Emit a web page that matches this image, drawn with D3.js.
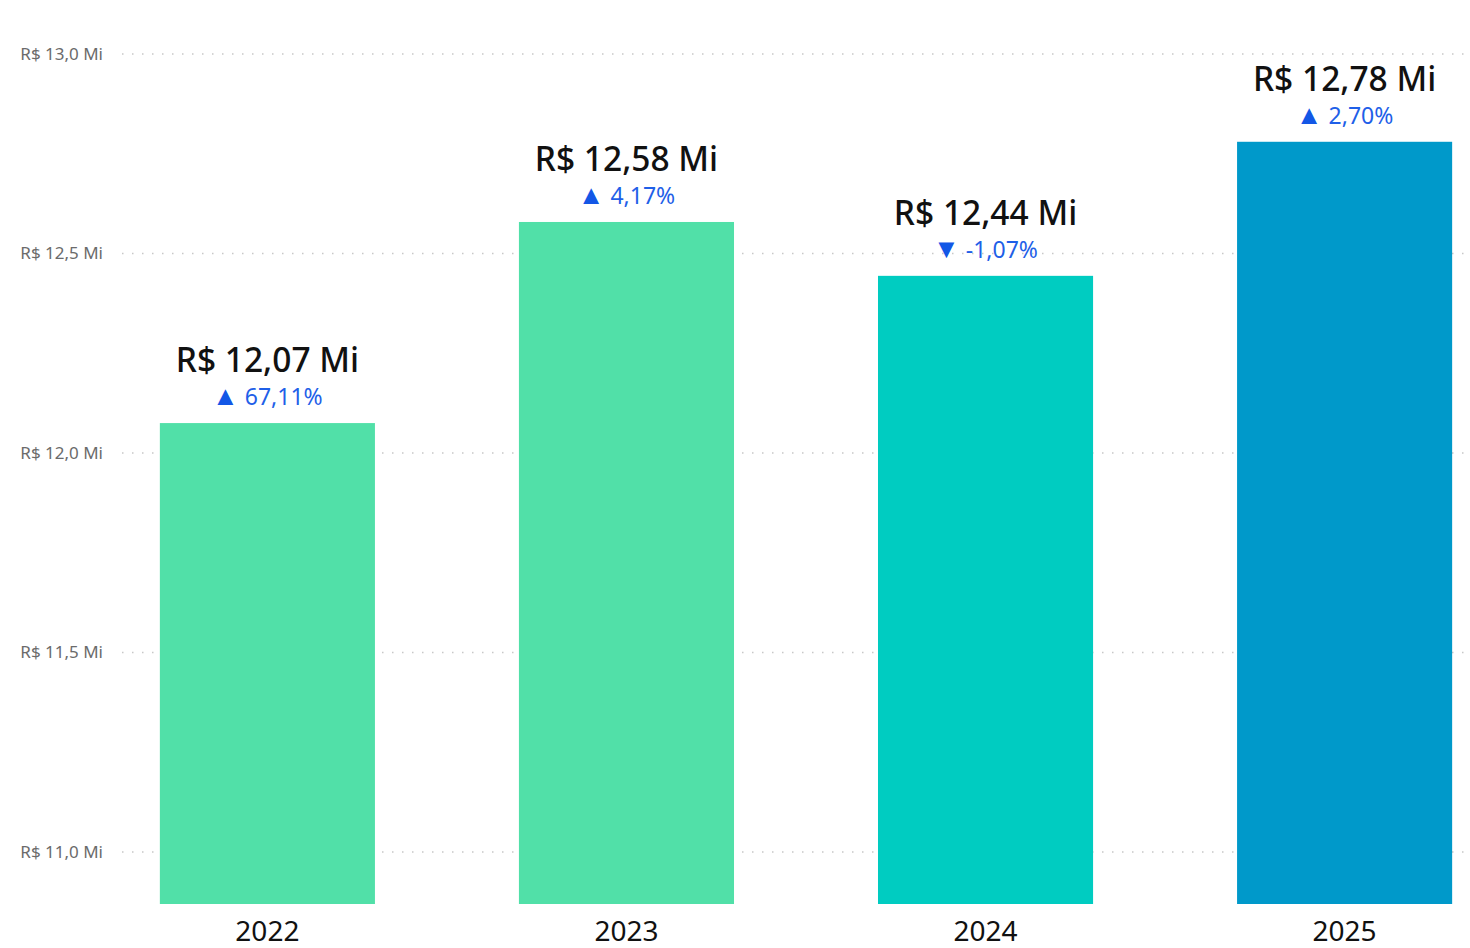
<!DOCTYPE html>
<html>
<head>
<meta charset="utf-8">
<script src="https://cdn.jsdelivr.net/npm/d3@7"></script>
<style>
  body { margin: 0; background: #fff; }
  svg text { font-family: "Segoe UI", "Noto Sans", "Open Sans", sans-serif; }
</style>
</head>
<body>
<div id="chart"></div>
<script>
let years = ['2022', '2023', '2024', '2025'];
let values = [12.075, 12.579, 12.444, 12.78];
let valueLabels = ['R$ 12,07 Mi', 'R$ 12,58 Mi', 'R$ 12,44 Mi', 'R$ 12,78 Mi'];
let changes = [67.11, 4.17, -1.07, 2.70];
let barColors = ['#51E0A8', '#51E0A8', '#00CCC1', '#0099CA'];
let yTicks = [11.0, 11.5, 12.0, 12.5, 13.0];

let outerWidth = 1470;
let outerHeight = 948;

let svg = d3.select('#chart')
    .append('svg')
    .attr('width', outerWidth)
    .attr('height', outerHeight);

// y scale: 13,0 at 54px, 11,0 at 852px
let yScale = d3.scaleLinear()
    .domain([11.0, 13.0])
    .range([852, 54]);
let yBottom = 904;

let xScale = d3.scaleBand()
    .domain(years)
    .range([120, 1492])
    .paddingInner(0.401)
    .paddingOuter(0.111);

// gridlines
svg.append('g')
    .selectAll('line')
    .data(yTicks)
    .enter()
    .append('line')
    .attr('x1', 122)
    .attr('x2', outerWidth)
    .attr('y1', function(d) { return yScale(d); })
    .attr('y2', function(d) { return yScale(d); })
    .attr('stroke', '#c8c8c8')
    .attr('stroke-width', 1.5)
    .attr('stroke-dasharray', '1.5,8.5');

// y tick labels
svg.append('g')
    .selectAll('text')
    .data(yTicks)
    .enter()
    .append('text')
    .attr('x', 103)
    .attr('y', function(d) { return yScale(d); })
    .attr('dy', '0.35em')
    .attr('text-anchor', 'end')
    .attr('fill', '#6b6b6b')
    .style('font-size', '17px')
    .text(function(d) { return 'R$ ' + d.toFixed(1).replace('.', ',') + ' Mi'; });

// bars
svg.append('g')
    .selectAll('rect')
    .data(values)
    .enter()
    .append('rect')
    .attr('x', function(d, i) { return xScale(years[i]); })
    .attr('y', function(d) { return yScale(d); })
    .attr('width', xScale.bandwidth())
    .attr('height', function(d) { return yBottom - yScale(d); })
    .attr('fill', function(d, i) { return barColors[i]; });

// value labels
svg.append('g')
    .selectAll('text')
    .data(values)
    .enter()
    .append('text')
    .attr('x', function(d, i) { return xScale(years[i]) + xScale.bandwidth() / 2; })
    .attr('y', function(d) { return yScale(d) - 51; })
    .attr('text-anchor', 'middle')
    .attr('fill', '#111')
    .style('font-size', '33.5px')
    .style('font-weight', '500')
    .text(function(d, i) { return valueLabels[i]; });

// change labels
let chg = svg.append('g')
    .selectAll('text')
    .data(values)
    .enter()
    .append('text')
    .attr('x', function(d, i) { return xScale(years[i]) + xScale.bandwidth() / 2; })
    .attr('y', function(d) { return yScale(d) - 18; })
    .attr('text-anchor', 'middle')
    .attr('fill', '#1F5FE8')
    .style('font-size', '23px');
chg.append('tspan')
    .style('font-size', '27px')
    .attr('fill', '#1357E6')
    .text(function(d, i) { return changes[i] >= 0 ? '▲' : '▼'; });
chg.append('tspan')
    .text(function(d, i) { return ' ' + changes[i].toFixed(2).replace('.', ',') + '%'; });

// x axis labels
svg.append('g')
    .selectAll('text')
    .data(years)
    .enter()
    .append('text')
    .attr('x', function(d) { return xScale(d) + xScale.bandwidth() / 2; })
    .attr('y', 941)
    .attr('text-anchor', 'middle')
    .attr('fill', '#111')
    .style('font-size', '28px')
    .text(function(d) { return d; });
</script>
</body>
</html>
